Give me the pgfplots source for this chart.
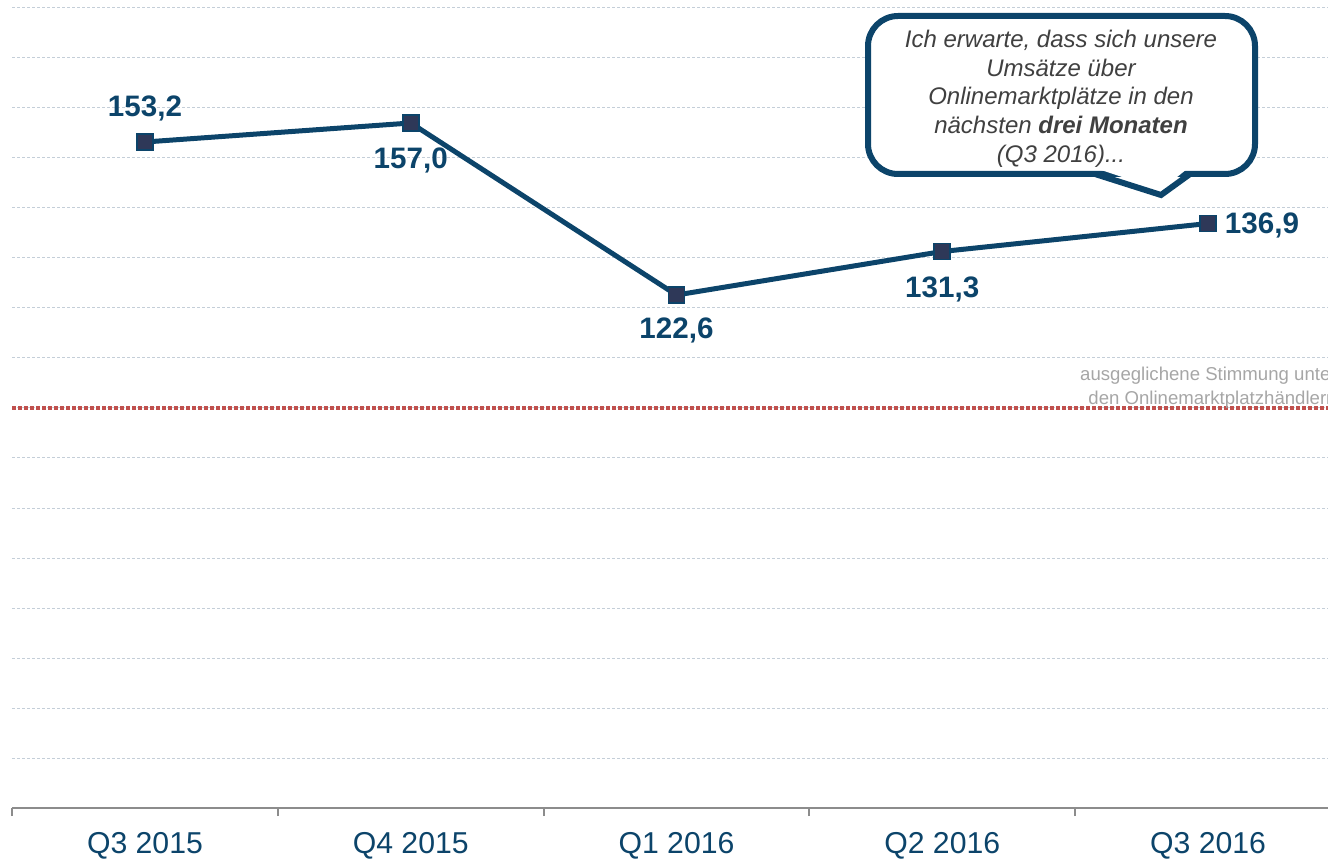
\documentclass[border=0pt]{standalone}
\usepackage{pgfplots}
\pgfplotsset{compat=1.18}
\usepackage{fontspec}
\setmainfont{Liberation Sans}

\definecolor{lineblue}{RGB}{12,68,106}
\definecolor{markfill}{RGB}{46,56,88}
\definecolor{gridc}{RGB}{196,206,216}
\definecolor{redline}{RGB}{192,80,77}
\definecolor{calltext}{RGB}{64,64,64}
\definecolor{axisgray}{RGB}{140,140,140}
\definecolor{notegray}{RGB}{166,166,166}

\begin{document}
\begin{tikzpicture}
\useasboundingbox (0,0) rectangle (664pt,429pt);
\clip (0,0) rectangle (664pt,429pt);
\begin{axis}[
  at={(6.05pt,25pt)}, anchor=south west,
  scale only axis, width=664.4pt, height=400pt,
  xmin=-0.5, xmax=4.5, ymin=20, ymax=180,
  axis x line*=bottom, axis y line*=left,
  x axis line style={axisgray, line width=1.2pt},
  y axis line style={draw=none},
  xtick={0,1,2,3,4},
  xticklabels={Q3 2015, Q4 2015, Q1 2016, Q2 2016, Q3 2016},
  minor xtick={-0.5,0.5,1.5,2.5,3.5},
  major tick length=0pt, minor tick length=4pt, tick align=outside,
  minor tick style={axisgray, line width=1pt},
  xticklabel style={font=\fontsize{15.1}{18}\selectfont, text=lineblue, anchor=base, yshift=-22.5pt, inner sep=1pt},
  ytick={30,40,...,180}, yticklabels={},
  ymajorgrids, major grid style={gridc, line width=0.5pt, dash pattern=on 1.5pt off 1pt},
  clip=false,
]
\draw[redline, line width=2pt, dash pattern=on 2pt off 1pt] (axis cs:-0.5,100) -- (axis cs:4.5,100);
\addplot[lineblue, line width=2.5pt, mark=square*, mark size=4pt,
  mark options={fill=markfill, draw=lineblue, line width=0.8pt}]
  coordinates {(0,153.2)(1,157.0)(2,122.6)(3,131.3)(4,136.9)};
\tikzset{vl/.style={font=\bfseries\fontsize{14.8}{17}\selectfont, text=lineblue}}
\node[vl, yshift=17pt] at (axis cs:0,153.2) {153,2};
\node[vl, yshift=-18.5pt] at (axis cs:1,157.0) {157,0};
\node[vl, yshift=-17.5pt] at (axis cs:2,122.6) {122,6};
\node[vl, yshift=-19pt] at (axis cs:3,131.3) {131,3};
\node[vl, xshift=27pt, yshift=-1pt] at (axis cs:4,136.9) {136,9};
\end{axis}
\begin{scope}[x=0.5pt, y=-0.5pt, shift={(0,429pt)}]
  % callout box
  \draw[lineblue, line width=3pt, fill=white, rounded corners=15pt] (868,16) rectangle (1255,174);
  \fill[white] (1098,169) -- (1161,190) -- (1187,169) -- cycle;
  \draw[lineblue, line width=3pt, line join=miter] (1095,174) -- (1161,195) -- (1190,174);
  \node[anchor=north, inner sep=0pt, align=center, text=calltext,
    font=\itshape\fontsize{12}{14.4}\selectfont] at (1061,29.5)
    {Ich erwarte, dass sich unsere\\Umsätze über\\Onlinemarktplätze in den\\nächsten \textbf{drei Monaten}\\(Q3 2016)...};
  % neutral line note
  \node[anchor=north east, inner sep=0pt, align=right, text=notegray,
    font=\fontsize{9.3}{12}\selectfont] at (1337,366.5)
    {ausgeglichene Stimmung unter\\den Onlinemarktplatzhändlern};
\end{scope}
\end{tikzpicture}
\end{document}
